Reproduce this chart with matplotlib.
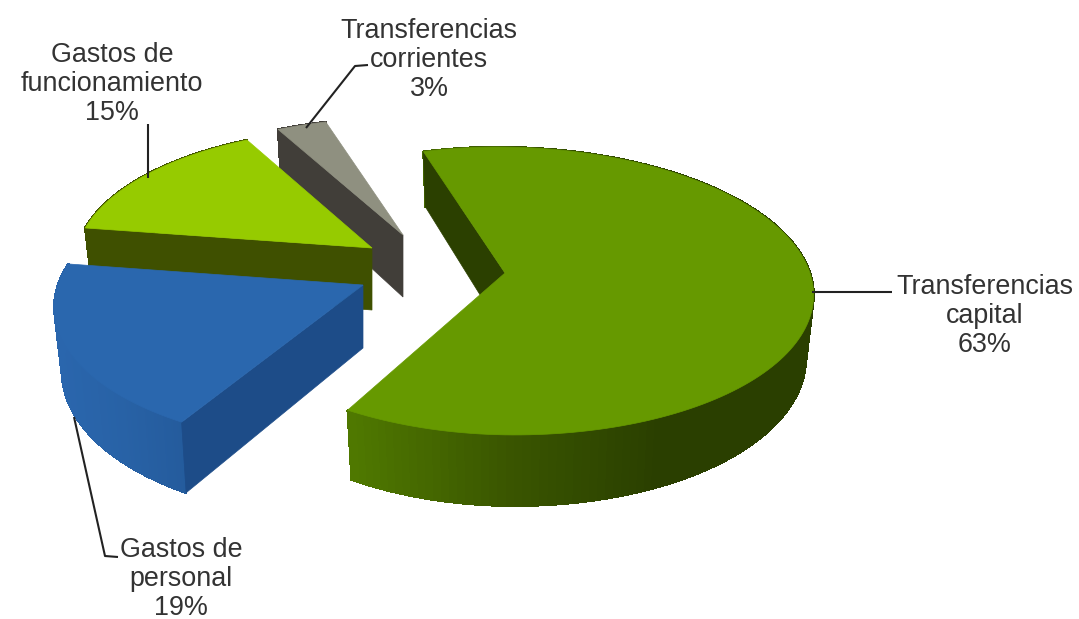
import numpy as np
import matplotlib
matplotlib.use("Agg")
import matplotlib.pyplot as plt
from matplotlib.collections import PolyCollection
from matplotlib.colors import LinearSegmentedColormap

plt.rcParams["font.family"] = ["Liberation Sans", "DejaVu Sans"]

# Data
categories = ["Transferencias\ncapital", "Gastos de\npersonal", "Gastos de\nfuncionamiento", "Transferencias\ncorrientes"]
percentages = [63, 19, 15, 3]

# Look of each slice, same order as the data
top_colors = ["#669900", "#2a67ae", "#96cb00", "#8f9080"]
cut_colors = ["#2b4000", "#1d4c88", "#3f5000", "#413e39"]
rim_colors = [["#4f7800", "#3a5600", "#2a3f00", "#2a3f00"], ["#2a66ad", "#2862a6", "#245b9c"], ["#3f5000"], ["#413e39"]]
centers = [(505, 273), (363, 285), (372, 248), (403, 235)]
half_widths = [305, 305, 295, 300]
half_heights = [141.7, 141.7, 135, 132]
left_squeeze = [0.96, 1.0, 1.0, 1.0]
shears = [-0.06, 0.065, -0.03, -0.01]
depths = [62, 63, 62, 62]

label_spots = [(985, 316), (181, 579), (112, 84), (429, 60)]
leaders = [
    [(812, 292), (892, 292)],
    [(74, 417), (105, 556), (118, 557)],
    [(148, 124), (148, 178)],
    [(306, 128), (355, 66), (368, 65)],
]

start_angle = -16.5
persp = 0.125
bottom_shrink = 0.975


def project(theta, radius, i):
    # theta in degrees, clockwise from the top of the pie. Returns top and bottom face points.
    t = np.radians(theta)
    u = radius * np.sin(t)
    v = radius * np.cos(t)
    w = 1 + persp * v
    x = half_widths[i] * u / w
    x = np.where(x < 0, x * left_squeeze[i], x)
    y = half_heights[i] * v / w
    x = x + shears[i] * y
    cx, cy = centers[i]
    top = np.column_stack([cx + x, cy - y])
    bottom = np.column_stack([cx + x * bottom_shrink, cy - y + depths[i] / w])
    return top, bottom


fig = plt.figure(figsize=(10.79, 6.19), dpi=100)
ax = fig.add_axes([0, 0, 1, 1])
ax.set_xlim(0, 1079)
ax.set_ylim(619, 0)
ax.axis("off")

shares = np.array(percentages) / sum(percentages) * 360
edges = start_angle + np.concatenate([[0], np.cumsum(shares)])

# far slices first so the nearer ones cover their walls
for i in [3, 2, 1, 0]:
    base_z = i * -3 + 10
    thetas = np.linspace(edges[i], edges[i + 1], 160)
    rim_top, rim_bottom = project(thetas, 1.0, i)
    apex_top, apex_bottom = project(np.array([0.0]), 0.0, i)

    # outer wall in thin strips, shaded left to right
    stops = rim_colors[i] if len(rim_colors[i]) > 1 else rim_colors[i] * 2
    cmap = LinearSegmentedColormap.from_list("rim", stops)
    strips = []
    strip_x = []
    for a in range(len(thetas) - 1):
        strips.append([rim_top[a], rim_top[a + 1], rim_bottom[a + 1], rim_bottom[a]])
        strip_x.append((rim_bottom[a][0] + rim_bottom[a + 1][0]) / 2)
    strip_x = np.array(strip_x)
    if i == 1:
        shade = (strip_x - strip_x.min()) / (190 - strip_x.min())
    else:
        shade = (strip_x - strip_x.min()) / (strip_x.max() - strip_x.min())
    colors = cmap(np.clip(shade, 0, 1))
    ax.add_collection(PolyCollection(strips, facecolors=colors, edgecolors=colors, linewidths=1.0,
                                     antialiaseds=False, zorder=base_z))

    # the cut wall that faces the viewer
    cut = np.vstack([rim_top[:1], apex_top, apex_bottom, rim_bottom[:1]])
    ax.fill(cut[:, 0], cut[:, 1], color=cut_colors[i], lw=0.5, zorder=base_z + 0.5)

    # top face
    face = np.vstack([apex_top, rim_top])
    ax.fill(face[:, 0], face[:, 1], color=top_colors[i], lw=0.5, zorder=base_z + 1)

for i, cat in enumerate(categories):
    xs, ys = zip(*leaders[i])
    ax.plot(xs, ys, color="#222222", lw=1.5, solid_capstyle="butt", zorder=20)
    ax.text(label_spots[i][0], label_spots[i][1], f"{cat}\n{percentages[i]}%", ha="center", va="center",
            ma="center", fontsize=19.4, color="#333333", linespacing=1.145, zorder=21)

fig.savefig("out.png", dpi=100, facecolor="white")
plt.close(fig)
